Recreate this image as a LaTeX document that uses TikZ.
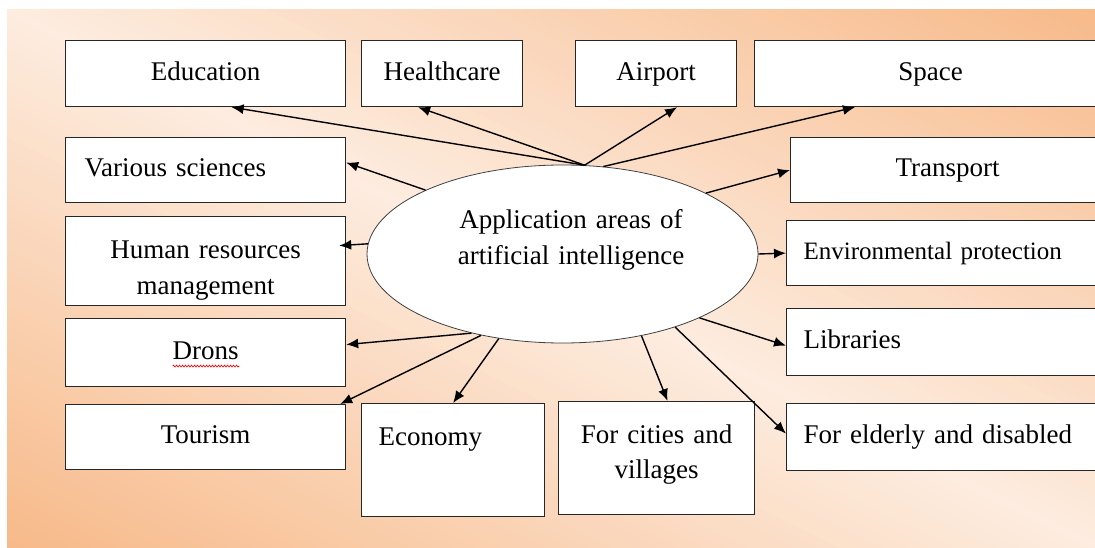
\documentclass[tikz,border=0pt]{standalone}
\usepackage{fontspec}
\setmainfont{Liberation Serif}
\usetikzlibrary{shapes.geometric,arrows.meta,decorations.pathmorphing}
\definecolor{bgorange}{RGB}{247,186,138}
\definecolor{bglight}{RGB}{253,236,223}
\begin{document}
\begin{tikzpicture}[x=1pt,y=-1pt,
  box/.style={draw=black!85,line width=1.2pt,fill=white,anchor=north west,inner ysep=0pt,text height=19pt,text depth=6pt,font=\fontsize{27}{36}\selectfont},
  lbox/.style={box,align=left,inner xsep=17pt,text width=#1},
  arr/.style={->,>={Latex[length=12pt,width=10pt]},line width=1.4pt}]
\useasboundingbox (0,0) rectangle (1095,548);
\begin{scope}
\clip (7,10) rectangle (1095,547);
\begin{scope}[shift={(551,278.5)},rotate=-26.27]
\foreach \t in {-500,-490,...,500} {
  \pgfmathsetmacro\p{min(100,abs(\t)/4.8)}
  \fill[bgorange!\p!bglight] (-800,\t-5.6) rectangle (800,\t+5.6);
}
\end{scope}
\end{scope}
\node[box,minimum width=280pt,minimum height=66pt] (edu) at (65,40) {Education};
\node[box,minimum width=161pt,minimum height=66pt] (health) at (361,40) {Healthcare};
\node[box,minimum width=161pt,minimum height=66pt] (airport) at (575,40) {Airport};
\node[box,minimum width=352pt,minimum height=66pt] (space) at (754,40) {Space};
\node[lbox=242pt,inner xsep=19pt,minimum height=65pt] (sci) at (65,137) {Various sciences};
\node[box,minimum width=314pt,minimum height=65pt] (trans) at (790,137) {Transport};
\node[box,align=center,text width=270pt,inner xsep=5pt,text height=42pt,text depth=47pt,font=\fontsize{27}{35.5}\selectfont] (hr) at (65,216) {Human resources\\management};
\node[lbox=290pt,minimum height=65pt,font=\fontsize{25}{30}\selectfont] (env) at (786,220) {Environmental protection};
\node[box,minimum width=280pt,minimum height=68pt] (drons) at (65,318) {Drons};
\node[lbox=290pt,minimum height=67pt] (lib) at (786,308) {Libraries};
\node[box,minimum width=280pt,minimum height=65pt] (tour) at (65,404) {Tourism};
\node[lbox=149pt,text height=42pt,text depth=71pt] (econ) at (361,403) {Economy};
\node[box,align=center,text width=186pt,inner xsep=5pt,text height=42pt,text depth=71pt,font=\fontsize{27}{35}\selectfont] (city) at (558,401) {For cities and\\villages};
\node[lbox=290pt,minimum height=67pt] (eld) at (786,403) {For elderly and disabled};
\node[ellipse,draw=black!75,line width=0.8pt,fill=white,minimum width=391pt,minimum height=178pt,inner sep=0pt] (ai) at (562.5,254) {};
\node[align=center,text width=260pt,anchor=base,font=\fontsize{27}{36}\selectfont] (ailbl) at (571,229) {Application areas of\\artificial intelligence};
\draw[red,line width=0.6pt,decorate,decoration={snake,amplitude=1pt,segment length=3pt}] ([xshift=-33pt,yshift=-7pt]drons.base) -- ([xshift=34pt,yshift=-7pt]drons.base);
\draw[arr] (ai.76) -- ([xshift=26pt]edu.south);
\draw[arr] (ai.76) -- ([xshift=-24pt]health.south);
\draw[arr] (ai.76) -- ([xshift=21pt]airport.south);
\draw[arr] (ai.65) -- ([xshift=101pt]space.south west);
\draw[arr] (ai.155) -- ([yshift=7.5pt]sci.east);
\draw[arr] (ai.177) -- ([xshift=-7pt,yshift=15.5pt]hr.east);
\draw[arr] (ai.23) -- (trans.west);
\draw[arr] (ai.east) -- (env.west);
\draw[arr] (ai.221) -- ([yshift=8pt]drons.east);
\draw[arr] (ai.225) -- ([xshift=-6pt]tour.north east);
\draw[arr] (ai.233) -- (econ.north);
\draw[arr] (ai.314) -- ([xshift=11pt]city.north);
\draw[arr] (ai.327) -- ([yshift=3.5pt]eld.west);
\draw[arr] (ai.335) -- ([yshift=-3.5pt]lib.west);
\end{tikzpicture}
\end{document}
